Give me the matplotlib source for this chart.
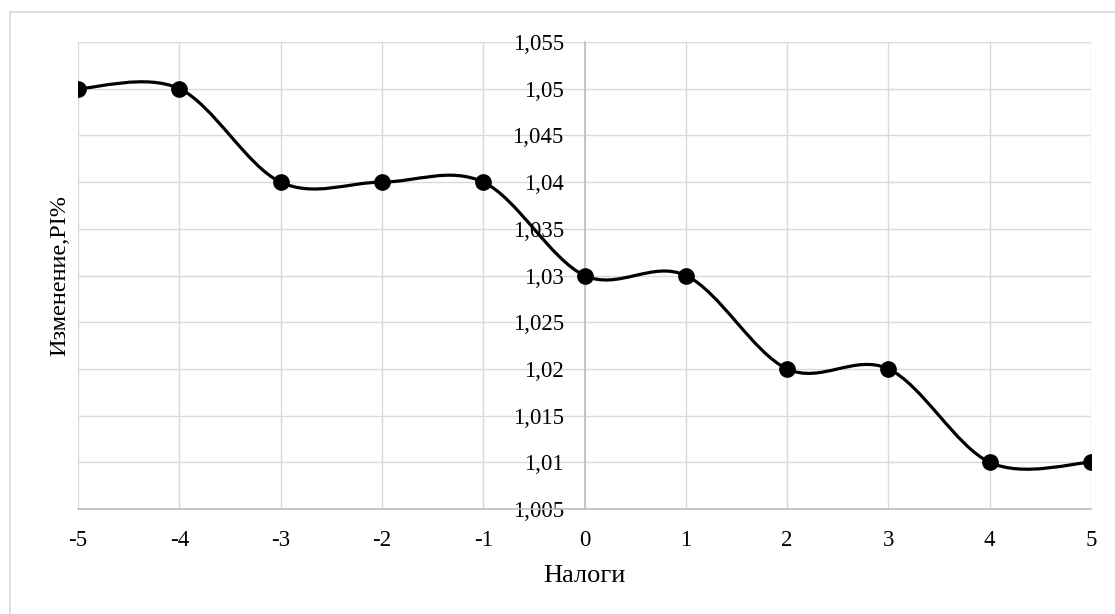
import matplotlib
matplotlib.use("Agg")
import matplotlib.pyplot as plt
from matplotlib.path import Path
from matplotlib.patches import PathPatch
from matplotlib.lines import Line2D
from matplotlib.ticker import FixedLocator, FuncFormatter

# tax change vs PI change
taxes = [-5, -4, -3, -2, -1, 0, 1, 2, 3, 4, 5]
pi_change = [1.05, 1.05, 1.04, 1.04, 1.04, 1.03, 1.03, 1.02, 1.02, 1.01, 1.01]
y_ticks = [1.005, 1.01, 1.015, 1.02, 1.025, 1.03, 1.035, 1.04, 1.045, 1.05, 1.055]

plt.rcParams['font.family'] = ['Liberation Serif', 'DejaVu Serif']
plt.rcParams['axes.unicode_minus'] = False


def smooth_path(xs, ys):
    # cubic bezier through the points, catmull-rom style tangents
    n = len(xs)
    verts = [(xs[0], ys[0])]
    codes = [Path.MOVETO]
    for i in range(n - 1):
        x0, y0 = (xs[i - 1], ys[i - 1]) if i > 0 else (xs[i], ys[i])
        x1, y1 = xs[i], ys[i]
        x2, y2 = xs[i + 1], ys[i + 1]
        x3, y3 = (xs[i + 2], ys[i + 2]) if i + 2 < n else (xs[i + 1], ys[i + 1])
        c1 = (x1 + (x2 - x0) / 6, y1 + (y2 - y0) / 6)
        c2 = (x2 - (x3 - x1) / 6, y2 - (y3 - y1) / 6)
        verts += [c1, c2, (x2, y2)]
        codes += [Path.CURVE4] * 3
    return Path(verts, codes)


fig = plt.figure(figsize=(11.15, 6.14), dpi=100)
ax = fig.add_axes([0.07, 0.171, 0.9085, 0.7606])

ax.add_patch(PathPatch(smooth_path(taxes, pi_change), facecolor='none',
                       edgecolor='black', lw=2.3, zorder=3))
ax.plot(taxes, pi_change, 'o', color='black', markersize=11, zorder=4)

ax.set_xlim(-5, 5)
ax.set_ylim(1.005, 1.055)
ax.xaxis.set_major_locator(FixedLocator(taxes))
ax.yaxis.set_major_locator(FixedLocator(y_ticks))
ax.yaxis.set_major_formatter(FuncFormatter(
    lambda v, p: f"{v:.3f}".rstrip('0').replace('.', ',')))

ax.grid(True, color='#D9D9D9', lw=1.0, zorder=0)
ax.set_axisbelow(True)
for s in ['top', 'right']:
    ax.spines[s].set_visible(False)
ax.spines['left'].set_position(('data', 0))
ax.spines['left'].set_color('#BFBFBF')
ax.spines['bottom'].set_color('#BFBFBF')
ax.spines['left'].set_linewidth(1.2)
ax.spines['bottom'].set_linewidth(1.2)

ax.tick_params(axis='both', length=0, labelsize=16.5, colors='black')
ax.tick_params(axis='y', pad=15)
ax.tick_params(axis='x', pad=15)

ax.set_xlabel("Налоги", fontsize=19, labelpad=10)
fig.text(0.054, 0.552, "Изменение,PI%", fontsize=17.5, rotation=90,
         ha='center', va='center')

# chart area frame
fig.add_artist(Line2D([0.009, 1.0], [0.9805, 0.9805], color='#D9D9D9', lw=1.2,
                      transform=fig.transFigure))
fig.add_artist(Line2D([0.009, 0.009], [0.0, 0.9805], color='#D9D9D9', lw=1.2,
                      transform=fig.transFigure))

fig.savefig("out.png", dpi=100)
